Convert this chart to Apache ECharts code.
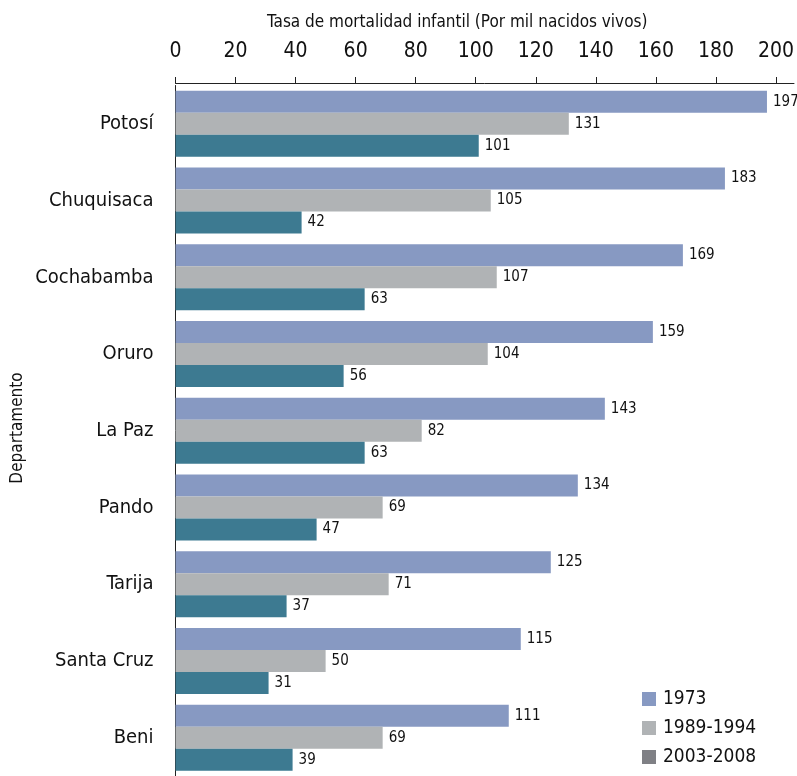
<!DOCTYPE html>
<html>
<head>
<meta charset="utf-8">
<script src="https://cdn.jsdelivr.net/npm/echarts@6/dist/echarts.min.js"></script>
<style>
  html, body { margin: 0; padding: 0; background: #fff; }
  #chart { width: 797px; height: 776px; }
</style>
</head>
<body>
<div id="chart"></div>
<script>
// Infant mortality rate by department, three survey periods
const departamentos = ['Potosí', 'Chuquisaca', 'Cochabamba', 'Oruro', 'La Paz', 'Pando', 'Tarija', 'Santa Cruz', 'Beni'];
const serie1973 = [197, 183, 169, 159, 143, 134, 125, 115, 111];
const serie1989 = [131, 105, 107, 104, 82, 69, 71, 50, 69];
const serie2003 = [101, 42, 63, 56, 63, 47, 37, 31, 39];
const periodos = ['1973', '1989-1994', '2003-2008'];
const xTicks = [0, 20, 40, 60, 80, 100, 120, 140, 160, 180, 200];

const FONT = '"Liberation Sans Narrow", "Arial Narrow", "DejaVu Sans Condensed", sans-serif';
const colores = ['#8799c2', '#b0b3b5', '#3d7a91'];
const coloresLeyenda = ['#8799c2', '#b0b3b5', '#7f8085'];

const chart = echarts.init(document.getElementById('chart'));

const labelCfg = {
  show: true,
  position: 'right',
  distance: 6,
  color: '#111',
  fontFamily: FONT,
  fontSize: 15
};

function barSeries(name, data, color) {
  return {
    name: name,
    type: 'bar',
    data: data,
    barGap: '0%',
    barCategoryGap: '14%',
    itemStyle: { color: color },
    label: labelCfg
  };
}

chart.setOption({
  animation: false,
  textStyle: { fontFamily: FONT },
  title: {
    text: 'Tasa de mortalidad infantil (Por mil nacidos vivos)',
    left: 262,
    top: 9,
    textStyle: { fontFamily: FONT, fontSize: 17, fontWeight: 'normal', color: '#111' }
  },
  legend: {
    orient: 'vertical',
    left: 642,
    top: 689,
    padding: 0,
    itemWidth: 14,
    itemHeight: 14,
    itemGap: 9,
    icon: 'rect',
    textStyle: { fontFamily: FONT, fontSize: 19, lineHeight: 20, color: '#111', padding: [0, 0, 0, 2] },
    data: periodos.map((p, i) => ({ name: p, itemStyle: { color: coloresLeyenda[i] } }))
  },
  graphic: [{
    type: 'text',
    x: 18,
    y: 428,
    rotation: Math.PI / 2,
    style: {
      text: 'Departamento',
      font: '17px ' + FONT,
      fill: '#111',
      align: 'center',
      verticalAlign: 'middle'
    }
  }],
  grid: {
    left: 175.5,
    right: 0,
    top: 85.5,
    height: 694,
    containLabel: false
  },
  xAxis: {
    type: 'value',
    position: 'top',
    min: 0,
    max: 206,
    interval: 20,
    offset: 2.5,
    axisLine: { show: true, lineStyle: { color: '#222', width: 1 } },
    axisTick: {
      show: true,
      inside: false,
      length: 6,
      lineStyle: { color: '#222' },
      customValues: xTicks
    },
    axisLabel: {
      margin: 21,
      fontFamily: FONT,
      fontSize: 21,
      color: '#111',
      customValues: xTicks
    },
    splitLine: { show: false }
  },
  yAxis: {
    type: 'category',
    inverse: true,
    data: departamentos,
    axisLine: { show: true, lineStyle: { color: '#222', width: 1 } },
    axisTick: { show: false },
    axisLabel: {
      margin: 22,
      fontFamily: FONT,
      fontSize: 20,
      color: '#111'
    }
  },
  series: [
    barSeries(periodos[0], serie1973, colores[0]),
    barSeries(periodos[1], serie1989, colores[1]),
    barSeries(periodos[2], serie2003, colores[2])
  ]
});
</script>
</body>
</html>
